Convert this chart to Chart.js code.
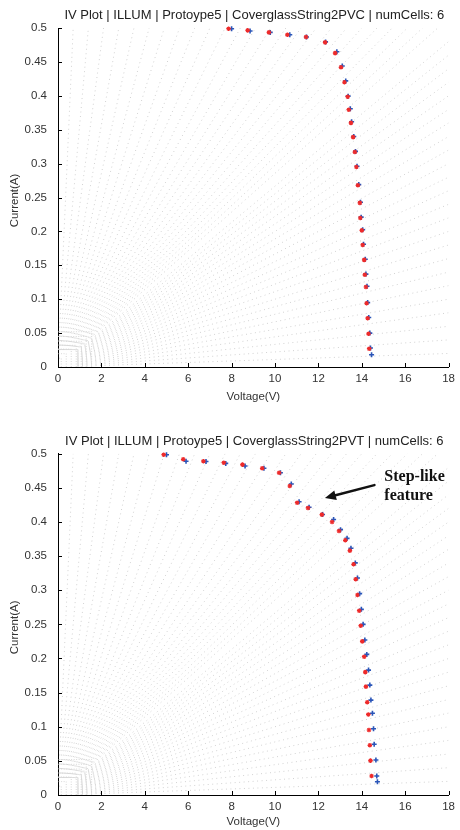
<!DOCTYPE html>
<html><head><meta charset="utf-8">
<script src="https://cdn.jsdelivr.net/npm/chart.js@4.4.0/dist/chart.umd.min.js"></script>
<style>
html,body{margin:0;padding:0;background:#fff;}
#wrap{position:relative;width:460px;height:830px;overflow:hidden;}
.c{position:absolute;left:0;width:460px;height:415px;}
</style></head><body>
<div id="wrap">
<div class="c" style="top:0"><canvas id="c1"></canvas></div>
<div class="c" style="top:415px"><canvas id="c2"></canvas></div>
</div>
<script>
// ---- tick labels / text ----
const voltTicks = [0,2,4,6,8,10,12,14,16,18];
const currTicks = [0,0.05,0.1,0.15,0.2,0.25,0.3,0.35,0.4,0.45,0.5];
const titleTop = "IV Plot | ILLUM | Protoype5 | CoverglassString2PVC | numCells: 6";
const titleBottom = "IV Plot | ILLUM | Protoype5 | CoverglassString2PVT | numCells: 6";
const xLabel = "Voltage(V)";
const yLabel = "Current(A)";

// ---- top plot (PVC) ----
const pvcRedV = [7.86,8.74,9.72,10.57,11.43,12.31,12.77,13.04,13.2,13.35,13.40,13.5,13.6,13.68,13.75,13.82,13.91,13.93,14.0,14.04,14.11,14.14,14.19,14.22,14.27,14.31,14.34];
const pvcRedI = [0.499,0.4965,0.4935,0.490,0.4867,0.4788,0.463,0.442,0.420,0.3987,0.3795,0.360,0.339,0.317,0.295,0.268,0.242,0.2198,0.2015,0.180,0.158,0.136,0.118,0.094,0.072,0.049,0.027];
const pvcBlueV = [8.0,8.85,9.78,10.68,11.45,12.33,12.85,13.1,13.26,13.37,13.47,13.53,13.63,13.71,13.78,13.86,13.94,13.97,14.04,14.08,14.16,14.19,14.24,14.27,14.32,14.37,14.40,14.45];
const pvcBlueI = [0.499,0.4955,0.4935,0.490,0.4867,0.4795,0.465,0.444,0.422,0.3995,0.3809,0.3617,0.340,0.318,0.296,0.269,0.243,0.221,0.2025,0.181,0.159,0.137,0.119,0.095,0.073,0.050,0.028,0.018];

// ---- bottom plot (PVT) ----
const pvtRedV = [4.87,5.77,6.70,7.64,8.5,9.41,10.19,10.68,11.02,11.52,12.16,12.63,12.95,13.24,13.45,13.62,13.72,13.8,13.88,13.95,14.02,14.11,14.16,14.19,14.25,14.30,14.33,14.37,14.40,14.45];
const pvtRedI = [0.4985,0.4918,0.489,0.4868,0.484,0.4786,0.472,0.4527,0.4282,0.4205,0.4107,0.400,0.3868,0.3731,0.358,0.338,0.316,0.293,0.27,0.248,0.225,0.2026,0.180,0.1587,0.1358,0.118,0.0952,0.0728,0.0503,0.0278];
const pvtBlueV = [5.0,5.9,6.82,7.73,8.62,9.49,10.25,10.75,11.11,11.57,12.19,12.70,13.02,13.32,13.5,13.7,13.8,13.9,13.98,14.06,14.14,14.23,14.31,14.37,14.42,14.49,14.54,14.57,14.65,14.69,14.72];
const pvtBlueI = [0.4985,0.489,0.4885,0.4858,0.482,0.4786,0.472,0.4557,0.4297,0.4215,0.411,0.4036,0.3887,0.376,0.3614,0.34,0.318,0.295,0.272,0.25,0.227,0.206,0.183,0.161,0.139,0.1197,0.0971,0.0743,0.0513,0.0278,0.0195];

// ---- annotation (data coords) ----
const noteLines = ["Step-like","feature"];
const noteAt = [15.04, 0.466];
const arrowFrom = [14.58, 0.454];
const arrowTo = [12.3, 0.435];

// ---- faint background guide lines (data coords) ----
const guideTopV = [0.7,1.4,2.1,2.8,3.5,4.2,4.9,5.6,6.3,7,7.7,8.4,9.1,9.8,10.5,11.2,11.9,12.6,13.3,14,14.7,15.4,16.1,16.8,17.5];
const guideRightI = [0.48,0.46,0.44,0.42,0.40,0.38,0.36,0.34,0.32,0.30,0.28,0.26,0.24,0.22,0.20,0.18,0.16,0.14,0.12,0.10,0.08,0.06,0.04,0.02];
const cornerV = [0.15,0.38,0.61,0.84,1.07,1.3,1.55];
const cornerI = [0.013,0.0196,0.0265,0.032,0.038,0.045,0.052];

const RED = '#ee2a2a', BLUE = '#2a55b8';
function pts(V, I){ return V.map((v,i)=>({x:v,y:I[i]})); }

const decor = {
  id: 'decor',
  beforeDatasetsDraw(chart, args, o){
    const {ctx, chartArea:a, scales:{x, y}} = chart;
    ctx.save();
    ctx.beginPath(); ctx.rect(a.left, a.top, a.right-a.left, a.bottom-a.top); ctx.clip();
    ctx.strokeStyle = '#d2d2d2'; ctx.lineWidth = 1; ctx.setLineDash([1,3.5]);
    const x0 = x.getPixelForValue(0), y0 = y.getPixelForValue(0);
    const seg = (ex, ey)=>{ const sx = x0 + (ex-x0)*0.05, sy = y0 + (ey-y0)*0.05; ctx.beginPath(); ctx.moveTo(sx,sy); ctx.lineTo(ex,ey); ctx.stroke(); };
    guideTopV.forEach(v=> seg(x.getPixelForValue(v), y.getPixelForValue(0.5)));
    guideRightI.forEach(c=> seg(x.getPixelForValue(18), y.getPixelForValue(c)));
    ctx.setLineDash([1,1.5]); ctx.strokeStyle='#d8d8d8';
    cornerV.forEach((v,i)=>{ ctx.beginPath(); ctx.moveTo(x.getPixelForValue(v), y0); ctx.lineTo(x.getPixelForValue(v), y.getPixelForValue(cornerI[i])); ctx.lineTo(x0, y.getPixelForValue(cornerI[i])); ctx.stroke(); });
    ctx.restore();
  },
  afterDraw(chart, args, o){
    const {ctx, chartArea:a, scales:{x, y}} = chart;
    ctx.save();
    // inward ticks
    ctx.strokeStyle = '#000'; ctx.lineWidth = 1;
    voltTicks.forEach(v=>{ const px = Math.round(x.getPixelForValue(v))+0.5; ctx.beginPath(); ctx.moveTo(px, a.bottom); ctx.lineTo(px, a.bottom-4); ctx.stroke(); });
    currTicks.forEach(v=>{ const py = Math.round(y.getPixelForValue(v))+0.5; ctx.beginPath(); ctx.moveTo(a.left, py); ctx.lineTo(a.left+4, py); ctx.stroke(); });
    // title
    ctx.fillStyle = '#222'; ctx.textAlign='center'; ctx.textBaseline='middle';
    ctx.font = '13px "Liberation Sans", Arial, sans-serif';
    ctx.fillText(o.title, (a.left+a.right)/2 + 1, o.titleY);
    // axis labels
    ctx.fillStyle = '#333';
    ctx.font = '11.5px "Liberation Sans", Arial, sans-serif';
    ctx.fillText(xLabel, (a.left+a.right)/2, o.xLabelY);
    ctx.save(); ctx.translate(15, (a.top+a.bottom)/2+3); ctx.rotate(-Math.PI/2); ctx.fillText(yLabel, 0, 0); ctx.restore();
    // annotation
    if (o.note){
      ctx.fillStyle = '#111'; ctx.textAlign='left';
      ctx.font = 'bold 16px "Liberation Serif", "DejaVu Serif", serif';
      const nx = x.getPixelForValue(noteAt[0]), ny = y.getPixelForValue(noteAt[1]);
      noteLines.forEach((t,i)=> ctx.fillText(t, nx, ny + i*19));
      const fx = x.getPixelForValue(arrowFrom[0]), fy = y.getPixelForValue(arrowFrom[1]);
      const tx = x.getPixelForValue(arrowTo[0]), ty = y.getPixelForValue(arrowTo[1]);
      const ang = Math.atan2(ty-fy, tx-fx);
      const hl = 11, hw = 5;
      const bx = tx - hl*Math.cos(ang), by = ty - hl*Math.sin(ang);
      ctx.strokeStyle = '#111'; ctx.lineWidth = 2.5; ctx.lineCap='round';
      ctx.beginPath(); ctx.moveTo(fx,fy); ctx.lineTo(bx,by); ctx.stroke();
      ctx.beginPath(); ctx.moveTo(tx,ty);
      ctx.lineTo(bx + hw*Math.sin(ang), by - hw*Math.cos(ang));
      ctx.lineTo(bx - hw*Math.sin(ang), by + hw*Math.cos(ang));
      ctx.closePath(); ctx.fillStyle='#111'; ctx.fill();
    }
    ctx.restore();
  }
};

function makeChart(id, redV, redI, blueV, blueI, opts){
  return new Chart(document.getElementById(id), {
    type: 'scatter',
    data: { datasets: [
      { label:'red', data: pts(redV, redI), pointStyle:'star', pointRadius:2.3, borderWidth:1.2, borderColor:RED, backgroundColor:RED, clip:false },
      { label:'blue', data: pts(blueV, blueI), pointStyle:'cross', pointRadius:2.5, borderWidth:1.6, borderColor:BLUE, backgroundColor:BLUE, clip:false }
    ]},
    options: {
      responsive:true, maintainAspectRatio:false, animation:false,
      layout: { padding: { left:0, right:9, top:opts.padTop, bottom:0 } },
      plugins: { legend:{display:false}, tooltip:{enabled:false}, decor: opts },
      scales: {
        x: { type:'linear', min:0, max:18,
             afterBuildTicks: s=>{ s.ticks = voltTicks.map(v=>({value:v})); },
             afterFit: s=>{ s.height = opts.xH; },
             grid:{ display:false, drawTicks:false },
             border:{ display:true, color:'#000', width:1 },
             ticks:{ padding:5, color:'#333', font:{ family:'"Liberation Sans", Arial, sans-serif', size:11.5 }, maxRotation:0, autoSkip:false, callback:v=>String(v) } },
        y: { type:'linear', min:0, max:0.5,
             afterBuildTicks: s=>{ s.ticks = currTicks.map(v=>({value:v})); },
             afterFit: s=>{ s.width = 58; },
             grid:{ display:false, drawTicks:false },
             border:{ display:true, color:'#000', width:1 },
             ticks:{ padding:11, color:'#333', font:{ family:'"Liberation Sans", Arial, sans-serif', size:11.5 }, autoSkip:false, callback:v=>String(+Number(v).toFixed(2)) } }
      }
    },
    plugins: [decor]
  });
}

makeChart('c1', pvcRedV, pvcRedI, pvcBlueV, pvcBlueI, { title:titleTop, titleY:15, xLabelY:397, padTop:28, xH:48, note:false });
makeChart('c2', pvtRedV, pvtRedI, pvtBlueV, pvtBlueI, { title:titleBottom, titleY:26, xLabelY:407, padTop:38.7, xH:35, note:true });
</script>
</body></html>
